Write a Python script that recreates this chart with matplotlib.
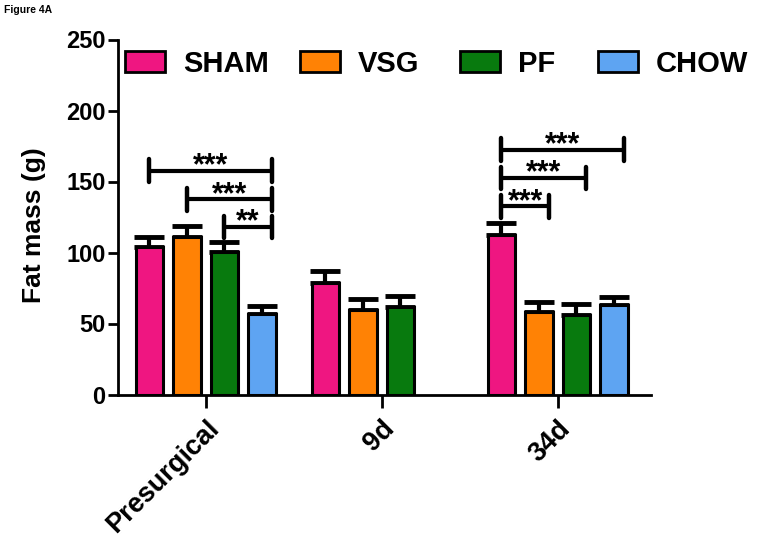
import matplotlib
matplotlib.use("Agg")
import matplotlib.pyplot as plt
from matplotlib.patches import Patch
import numpy as np

plt.rcParams['font.family'] = ['Liberation Sans', 'DejaVu Sans']
plt.rcParams['font.weight'] = 'bold'

groups = ["Presurgical", "9d", "34d"]
series = ["SHAM", "VSG", "PF", "CHOW"]
colors = ["#EF1681", "#FF8205", "#087A0E", "#5EA4F2"]
# values per series across groups (None = no bar)
values = {
    "SHAM": [104, 78.5, 112],
    "VSG":  [111, 59.5, 58],
    "PF":   [100.5, 61.5, 56],
    "CHOW": [57, None, 63],
}
errors = {
    "SHAM": [7, 8.5, 9],
    "VSG":  [8, 7.5, 7],
    "PF":   [7, 8, 8],
    "CHOW": [5, None, 5.5],
}
# significance brackets: (group index, bar from, bar to, height, label)
brackets = [
    (0, 0, 3, 157.5, "***"),
    (0, 1, 3, 137.5, "***"),
    (0, 2, 3, 118, "**"),
    (2, 0, 3, 172.5, "***"),
    (2, 0, 2, 152.5, "***"),
    (2, 0, 1, 132.5, "***"),
]

fig = plt.figure(figsize=(7.62, 5.42), dpi=100)
ax = fig.add_axes([118/762, 147.5/542, (651-118)/762, (394.5-39.5)/542])

step = 0.213
width = 0.155
x = np.arange(len(groups))
for i, s in enumerate(series):
    offs = (i - 1.5) * step
    for g in range(len(groups)):
        v = values[s][g]
        if v is None:
            continue
        e = errors[s][g]
        ax.errorbar(x[g] + offs, v, yerr=[[0], [e]], fmt='none', ecolor='black',
                    elinewidth=3, capsize=11, capthick=3.5, zorder=2)
        ax.bar(x[g] + offs, v, width=width, color=colors[i], edgecolor='black',
               linewidth=2.2, zorder=3)

tick_half = 8
for g, a, b, h, lab in brackets:
    x1 = x[g] + (a - 1.5) * step
    x2 = x[g] + (b - 1.5) * step + 0.057
    ax.plot([x1, x2], [h, h], color='black', lw=3, solid_capstyle='butt', zorder=4)
    ax.plot([x1, x1], [h - tick_half, h + tick_half], color='black', lw=3.2,
            solid_capstyle='round', zorder=4)
    ax.plot([x2, x2], [h - tick_half, h + tick_half], color='black', lw=3.2,
            solid_capstyle='round', zorder=4)
    ax.text((x1 + x2) / 2, h - 2.5, lab, ha='center', va='baseline', fontsize=22,
            fontweight='bold')

ax.set_xlim(-0.498, 2.53)
ax.set_ylim(0, 250)
ax.set_yticks([0, 50, 100, 150, 200, 250])
ax.set_xticks(x)
ax.set_xticklabels(groups, rotation=45, ha='right', rotation_mode='anchor',
                   fontsize=19.5, fontweight='bold')
ax.tick_params(axis='y', labelsize=17, width=2, length=7, direction='out', pad=2)
ax.tick_params(axis='x', width=2, length=9, direction='out', pad=6)
for lab in ax.get_yticklabels():
    lab.set_fontweight('bold')
for sp in ['top', 'right']:
    ax.spines[sp].set_visible(False)
for sp in ['left', 'bottom']:
    ax.spines[sp].set_linewidth(2)
ax.set_ylabel("Fat mass (g)", fontsize=19, fontweight='bold')
ax.yaxis.set_label_coords(-0.135, 0.477)

legend_x = [125, 300, 460, 598]
for c, s, lx in zip(colors, series, legend_x):
    h = Patch(facecolor=c, edgecolor='black', linewidth=2, label=s)
    fig.legend(handles=[h], loc='upper left', bbox_to_anchor=(lx/762, 1 - 50/542),
               frameon=False, handlelength=1.37, handleheight=0.72,
               handletextpad=0.62, borderpad=0, borderaxespad=0,
               prop={'weight': 'bold', 'size': 21})

fig.text(4/762, 1 - 5/542, "Figure 4A", fontsize=7.5, fontweight='bold',
         ha='left', va='top')

fig.savefig("out.png", dpi=100)
